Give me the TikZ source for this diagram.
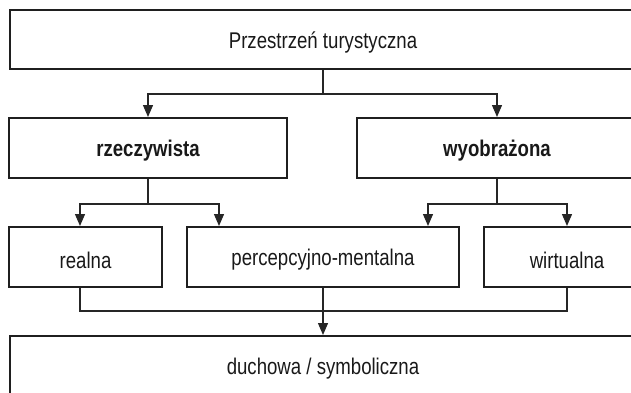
\documentclass[tikz,border=0pt]{standalone}
\usepackage{fontspec}
\setmainfont{Liberation Sans}[FakeStretch=0.82]
\usetikzlibrary{arrows.meta}
\newcommand\txtdown[1]{\raisebox{-3pt}[\height][\depth]{#1}}
\begin{document}
\begin{tikzpicture}[x=1pt,y=-1pt,
  box/.style={draw=black!88,line width=2pt,inner sep=0pt,font=\fontsize{22.7}{26}\selectfont,text=black!90},
  boldbox/.style={box,font=\fontsize{22.7}{26}\selectfont\bfseries},
  conn/.style={draw=black!85,line width=1.3pt},
  arr/.style={conn,-{Triangle[length=12pt,width=10pt]}}]
\useasboundingbox (0,0) rectangle (631,392);
\node[box,minimum width=626pt,minimum height=59pt] (top) at (323,39.5) {\txtdown{Przestrzeń turystyczna}};
\node[boldbox,minimum width=278pt,minimum height=60pt] (rz) at (148,148) {\txtdown{rzeczywista}};
\node[boldbox,minimum width=280pt,minimum height=60pt] (wy) at (497,148) {\txtdown{wyobrażona}};
\node[box,minimum width=153pt,minimum height=60pt] (re) at (85.5,257) {\txtdown{realna}};
\node[box,minimum width=272pt,minimum height=60pt] (pe) at (323,257) {\txtdown{percepcyjno-mentalna}};
\node[box,minimum width=166pt,minimum height=60pt] (wi) at (567,257) {\txtdown{wirtualna}};
\node[box,minimum width=626pt,minimum height=59pt] (bo) at (323,365.5) {\txtdown{duchowa / symboliczna}};
\coordinate (J) at (323,311);
% top split
\draw[conn] (top.south) -- ++(0,24) coordinate (t1);
\draw[arr] (t1) -| (rz.north);
\draw[arr] (t1) -| (wy.north);
% rzeczywista split
\draw[conn] (rz.south) -- ++(0,25) coordinate (r1);
\draw[arr] (r1) -| ([xshift=-5.5pt]re.north);
\draw[arr] (r1) -| ([xshift=-104pt]pe.north);
% wyobrazona split
\draw[conn] (wy.south) -- ++(0,25) coordinate (w1);
\draw[arr] (w1) -| ([xshift=105pt]pe.north);
\draw[arr] (w1) -| (wi.north);
% merge
\draw[conn] ([xshift=-5.5pt]re.south) |- (J) -| (wi.south);
\draw[arr] (pe.south) -- (bo.north);
\end{tikzpicture}
\end{document}
